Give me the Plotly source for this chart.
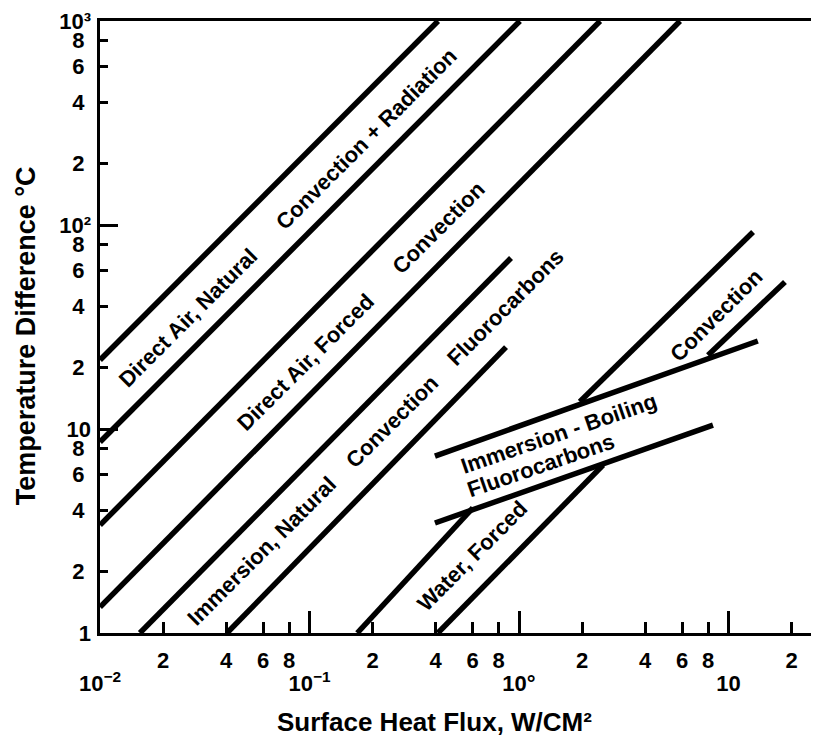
import numpy as np
import plotly.graph_objects as go

# ---------------- data ----------------
# Straight correlation lines: endpoints (heat flux W/cm^2, temperature difference C)
air_natural_upper_x = [0.01, 0.411]
air_natural_upper_y = [21.8, 1000]
air_natural_lower_x = [0.01, 1.01]
air_natural_lower_y = [8.64, 1000]
air_forced_upper_x = [0.01, 2.44]
air_forced_upper_y = [3.38, 1000]
air_forced_lower_x = [0.01, 5.87]
air_forced_lower_y = [1.34, 1000]
imm_natural_upper_x = [0.0155, 0.916]
imm_natural_upper_y = [1, 68.9]
imm_natural_lower_x = [0.0404, 0.867]
imm_natural_lower_y = [1, 25.2]
# water forced convection lines are interrupted by the boiling band
water_upper_x = [0.169, 0.602, None, 1.95, 13.1]
water_upper_y = [1, 4.10, None, 13.6, 92.4]
water_lower_x = [0.410, 2.52, None, 7.98, 18.6]
water_lower_y = [1, 6.66, None, 23.0, 52.6]
boiling_upper_x = [0.397, 13.8]
boiling_upper_y = [7.37, 27.0]
boiling_lower_x = [0.397, 8.43]
boiling_lower_y = [3.46, 10.45]

line_x = [air_natural_upper_x, air_natural_lower_x, air_forced_upper_x, air_forced_lower_x,
          imm_natural_upper_x, imm_natural_lower_x, water_upper_x, water_lower_x,
          boiling_upper_x, boiling_lower_x]
line_y = [air_natural_upper_y, air_natural_lower_y, air_forced_upper_y, air_forced_lower_y,
          imm_natural_upper_y, imm_natural_lower_y, water_upper_y, water_lower_y,
          boiling_upper_y, boiling_lower_y]

# Region labels
label_text = ["Direct Air, Natural", "Convection + Radiation",
              "Direct Air, Forced", "Convection",
              "Immersion, Natural", "Convection", "Fluorocarbons",
              "Water, Forced", "Convection",
              "Immersion - Boiling", "Fluorocarbons"]
label_x = [0.0263, 0.188, 0.0952, 0.415, 0.0587, 0.248, 0.857, 0.602, 8.71, 1.55, 1.27]
label_y = [35.4, 264, 21.3, 96.7, 2.52, 10.9, 39.6, 2.39, 36.2, 9.55, 6.59]
label_angle = [-45, -45, -45, -45, -45, -45, -45, -45, -45, -19, -19]

# Axis ticks
x_minor_vals = [0.02, 0.04, 0.06, 0.08, 0.2, 0.4, 0.6, 0.8, 2, 4, 6, 8, 20]
x_minor_text = ["2", "4", "6", "8", "2", "4", "6", "8", "2", "4", "6", "8", "2"]
x_major_vals = [0.01, 0.1, 1, 10]
x_major_text = ["10<sup>\u22122</sup>", "10<sup>\u22121</sup>", "10\u00b0", "10"]
y_minor_vals = [2, 4, 6, 8, 20, 40, 60, 80, 200, 400, 600, 800]
y_minor_text = ["2", "4", "6", "8", "2", "4", "6", "8", "2", "4", "6", "8"]
y_major_vals = [1, 10, 100, 1000]
y_major_text = ["1", "10", "10\u00b2", "10\u00b3"]

x_title = "Surface Heat Flux, W/CM\u00b2"
y_title = "Temperature Difference \u00b0C"

# ---------------- figure ----------------
FONT = "Liberation Sans, Arial, Helvetica, sans-serif"
X_RANGE = [-2, 1.4224]
Y_RANGE = [0, 3]

fig = go.Figure()
for xs, ys in zip(line_x, line_y):
    fig.add_trace(go.Scatter(x=xs, y=ys, mode="lines",
                             line=dict(color="black", width=5.5),
                             connectgaps=False, hoverinfo="skip", showlegend=False))

# invisible trace carrying the overlay axes used for decade ticks
fig.add_trace(go.Scatter(x=[None], y=[None], xaxis="x2", yaxis="y2",
                         mode="markers", hoverinfo="skip", showlegend=False))

tickfont = dict(family=FONT, size=22, color="black", weight="bold")

# the page body adds an 8px margin, so the figure is sized 8px smaller
fig.update_layout(
    width=811, height=745,
    margin=dict(l=92, r=2, t=13, b=120, autoexpand=False),
    plot_bgcolor="white", paper_bgcolor="white",
    showlegend=False,
    xaxis=dict(type="log", range=X_RANGE, tickmode="array", automargin=False,
               tickvals=x_minor_vals, ticktext=x_minor_text,
               ticks="inside", ticklen=11, tickwidth=3, tickcolor="black",
               showline=True, linewidth=3, linecolor="black", mirror=True,
               showgrid=False, zeroline=False, tickfont=tickfont,
               ticklabelstandoff=6, ticklabeloverflow="allow"),
    xaxis2=dict(type="log", range=X_RANGE, overlaying="x", anchor="y", side="bottom",
                automargin=False,
                tickmode="array", tickvals=x_major_vals, ticktext=x_major_text,
                ticks="inside", ticklen=22, tickwidth=3, tickcolor="black",
                showline=False, showgrid=False, zeroline=False, tickfont=tickfont,
                ticklabelstandoff=35, ticklabeloverflow="allow"),
    yaxis=dict(type="log", range=Y_RANGE, tickmode="array", automargin=False,
               tickvals=y_minor_vals, ticktext=y_minor_text,
               ticks="inside", ticklen=8, tickwidth=3, tickcolor="black",
               showline=True, linewidth=3, linecolor="black", mirror=False,
               showgrid=False, zeroline=False, tickfont=tickfont,
               ticklabelstandoff=8, ticklabeloverflow="allow"),
    yaxis2=dict(type="log", range=Y_RANGE, overlaying="y", anchor="x", side="left",
                automargin=False,
                tickmode="array", tickvals=y_major_vals, ticktext=y_major_text,
                ticks="inside", ticklen=18, tickwidth=3, tickcolor="black",
                showline=False, showgrid=False, zeroline=False, tickfont=tickfont,
                ticklabelstandoff=8, ticklabeloverflow="allow"),
)

for t, lx, ly, ang in zip(label_text, label_x, label_y, label_angle):
    fig.add_annotation(x=np.log10(lx), y=np.log10(ly), xref="x", yref="y",
                       text=t, textangle=ang, showarrow=False,
                       font=dict(family=FONT, size=22, color="black", weight="bold"))

fig.add_annotation(x=0.467, y=-0.1454, xref="paper", yref="paper", text=x_title,
                   showarrow=False, xanchor="center", yanchor="middle",
                   font=dict(family=FONT, size=26, color="black", weight="bold"))
fig.add_annotation(x=-0.103, y=0.485, xref="paper", yref="paper", text=y_title,
                   textangle=-90, showarrow=False, xanchor="center", yanchor="middle",
                   font=dict(family=FONT, size=27, color="black", weight="bold"))

# partial right frame seen at the top right of the original
fig.add_shape(type="line", xref="paper", yref="paper", x0=1, x1=1, y0=0.797, y1=1,
              line=dict(color="black", width=2))

fig.write_html("out.html")
